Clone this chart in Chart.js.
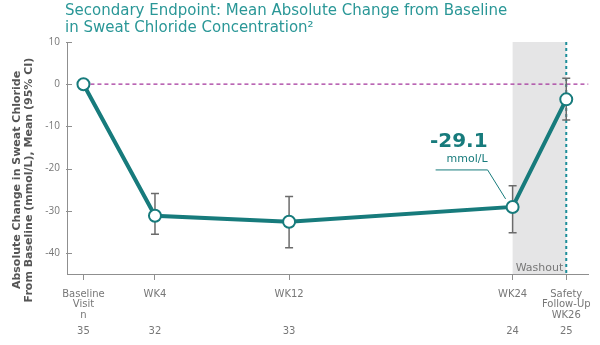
<!DOCTYPE html>
<html>
<head>
<meta charset="utf-8">
<script src="https://cdn.jsdelivr.net/npm/chart.js@4.4.1/dist/chart.umd.min.js"></script>
<style>
  html, body { margin: 0; padding: 0; background: #fff; }
  #wrap { width: 600px; height: 345px; position: relative; }
</style>
</head>
<body>
<div id="wrap"><canvas id="sweat" width="600" height="345"></canvas></div>
<script>
// visits, plotted at their slot along the time axis
const visits = ["Baseline", "WK4", "WK12", "WK24", "WK26"];
const slots = [0, 4, 11.5, 24, 27];
const tickLabels = [["Baseline", "Visit", "n"], ["WK4"], ["WK12"], ["WK24"], ["Safety", "Follow-Up", "WK26"]];
const nCounts = [35, 32, 33, 24, 25];
const meanChange = [0, -31.2, -32.6, -29.1, -3.6];
const ciLow = [null, -35.6, -38.8, -35.2, -8.5];
const ciHigh = [null, -25.9, -26.6, -24.1, 1.4];
const yTicks = [10, 0, -10, -20, -30, -40];
const yTitle = ["Absolute Change in Sweat Chloride", "From Baseline (mmol/L), Mean (95% CI)"];

const teal = "#177b7c";
const grey = "#8f8f8f";
const font = "'DejaVu Sans'";

const decor = {
  id: 'decor',
  beforeDatasetsDraw(chart) {
    const ctx = chart.ctx, a = chart.chartArea;
    const x = chart.scales.x, y = chart.scales.y;
    ctx.save();
    // washout band
    const bx1 = x.getPixelForValue(slots[3]), bx2 = x.getPixelForValue(slots[4]);
    ctx.fillStyle = "#e5e5e6";
    ctx.fillRect(bx1, a.top, bx2 - bx1, a.bottom - a.top);
    ctx.fillStyle = "#777";
    ctx.font = "11px " + font;
    ctx.textAlign = "right";
    ctx.textBaseline = "middle";
    ctx.fillText("Washout", bx2 - 3, a.bottom - 6);
    // zero reference line
    const y0 = y.getPixelForValue(0);
    ctx.strokeStyle = "#a4359c";
    ctx.lineWidth = 1.3;
    ctx.setLineDash([4, 3]);
    ctx.beginPath();
    ctx.moveTo(x.getPixelForValue(slots[0]), y0);
    ctx.lineTo(a.right, y0);
    ctx.stroke();
    // follow-up dotted line
    ctx.strokeStyle = "#1d8e9a";
    ctx.lineWidth = 2;
    ctx.setLineDash([3, 3]);
    ctx.beginPath();
    ctx.moveTo(bx2, a.top);
    ctx.lineTo(bx2, a.bottom);
    ctx.stroke();
    ctx.setLineDash([]);
    // error bars
    ctx.strokeStyle = "#6b6b6b";
    ctx.lineWidth = 1.5;
    for (let i = 0; i < slots.length; i++) {
      if (ciLow[i] === null) continue;
      const px = x.getPixelForValue(slots[i]);
      const lo = y.getPixelForValue(ciLow[i]), hi = y.getPixelForValue(ciHigh[i]);
      ctx.beginPath();
      ctx.moveTo(px, lo); ctx.lineTo(px, hi);
      ctx.moveTo(px - 4, lo); ctx.lineTo(px + 4, lo);
      ctx.moveTo(px - 4, hi); ctx.lineTo(px + 4, hi);
      ctx.stroke();
    }
    ctx.restore();
  },
  afterDraw(chart) {
    const ctx = chart.ctx, a = chart.chartArea;
    const x = chart.scales.x, y = chart.scales.y;
    ctx.save();
    // title
    ctx.fillStyle = "#2a9797";
    ctx.font = "15px " + font;
    ctx.textAlign = "left";
    ctx.textBaseline = "alphabetic";
    ctx.fillText("Secondary Endpoint: Mean Absolute Change from Baseline", 65, 15);
    ctx.fillText("in Sweat Chloride Concentration\u00b2", 65, 32);
    // y-axis title
    ctx.save();
    ctx.translate(0, 180);
    ctx.rotate(-Math.PI / 2);
    ctx.fillStyle = "#555";
    ctx.font = "bold 11px " + font;
    ctx.textAlign = "center";
    ctx.textBaseline = "middle";
    ctx.fillText(yTitle[0], 0, 17);
    ctx.fillText(yTitle[1], 0, 29);
    ctx.restore();
    // n counts
    ctx.fillStyle = "#777";
    ctx.font = "10px " + font;
    ctx.textAlign = "center";
    ctx.textBaseline = "middle";
    for (let i = 0; i < slots.length; i++) {
      ctx.fillText(String(nCounts[i]), x.getPixelForValue(slots[i]), 331);
    }
    // y tick marks
    ctx.strokeStyle = grey;
    ctx.lineWidth = 1;
    yTicks.forEach(v => {
      const py = Math.round(y.getPixelForValue(v)) + 0.5;
      ctx.beginPath();
      ctx.moveTo(a.left - 1, py); ctx.lineTo(a.left + 5, py);
      ctx.stroke();
    });
    // callout for WK24
    const px = x.getPixelForValue(slots[3]), py = y.getPixelForValue(meanChange[3]);
    ctx.strokeStyle = teal;
    ctx.lineWidth = 1;
    ctx.beginPath();
    ctx.moveTo(px - 77, py - 37);
    ctx.lineTo(px - 25, py - 37);
    ctx.lineTo(px - 7, py - 8);
    ctx.stroke();
    ctx.fillStyle = teal;
    ctx.font = "bold 20px " + font;
    ctx.textAlign = "right";
    ctx.textBaseline = "alphabetic";
    ctx.fillText(meanChange[3].toFixed(1), px - 25, py - 60);
    ctx.font = "11px " + font;
    ctx.fillText("mmol/L", px - 25, py - 45);
    ctx.restore();
  }
};

new Chart(document.getElementById("sweat").getContext('2d'), {
  type: 'line',
  data: {
    labels: visits,
    datasets: [{
      data: slots.map((s, i) => ({ x: s, y: meanChange[i] })),
      borderColor: teal,
      borderWidth: 4,
      pointRadius: 6,
      pointBorderWidth: 2,
      pointBackgroundColor: "#fff",
      pointBorderColor: teal,
      tension: 0
    }]
  },
  options: {
    responsive: false,
    animation: false,
    layout: { padding: { top: 42, right: 10, left: 0, bottom: 0 } },
    plugins: { legend: { display: false }, tooltip: { enabled: false } },
    scales: {
      x: {
        type: 'linear',
        min: -0.92,
        max: 28.23,
        afterBuildTicks(scale) { scale.ticks = slots.map(v => ({ value: v })); },
        afterFit(scale) { scale.height = 71; },
        grid: { drawOnChartArea: false, tickLength: 6, color: grey },
        border: { color: grey },
        ticks: {
          autoSkip: false,
          maxRotation: 0,
          padding: 9,
          color: "#777",
          font: { family: font, size: 10, lineHeight: 1.05 },
          callback(value, index) { return tickLabels[index]; }
        }
      },
      y: {
        min: -45,
        max: 10,
        afterBuildTicks(scale) { scale.ticks = yTicks.map(v => ({ value: v })); },
        afterFit(scale) { scale.width = 67; },
        grid: { display: false, drawTicks: false },
        border: { color: grey },
        ticks: {
          color: "#777",
          padding: 7,
          font: { family: "'Open Sans'", size: 10 },
          callback(value) { return String(value); }
        }
      }
    }
  },
  plugins: [decor]
});
</script>
</body>
</html>
